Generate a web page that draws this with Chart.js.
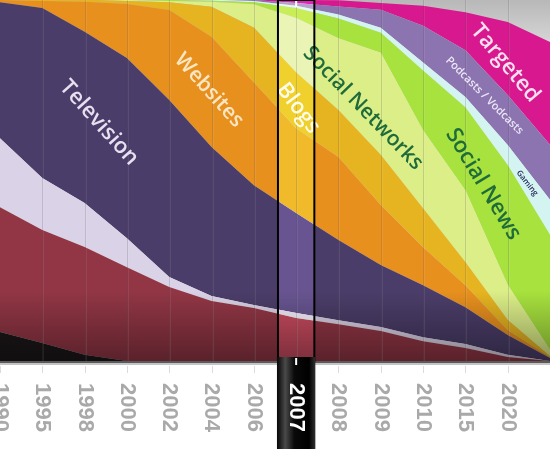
<!DOCTYPE html>
<html>
<head>
<meta charset="utf-8">
<script src="https://cdn.jsdelivr.net/npm/chart.js@4"></script>
<style>
  html, body { margin: 0; padding: 0; background: #fff; }
  #chart { display: block; }
</style>
</head>
<body>
<canvas id="chart" width="550" height="449"></canvas>
<script>
// years on the axis, last point is an unlabeled end point
const years = ['1990', '1995', '1998', '2000', '2002', '2004', '2006', '2007', '2008', '2009', '2010', '2015', '2020', ''];
const highlightYear = '2007';

// share of media (%), bottom of the stack first
const print      = [8.0, 5.0, 1.7, 0, 0, 0, 0, 0, 0, 0, 0, 0, 0, 0];
const radio      = [34.6, 31.3, 29.9, 26.0, 20.5, 16.6, 14.7, 11.9, 10.2, 8.3, 5.5, 3.6, 1.1, 0];
const outdoor    = [19.1, 14.4, 12.2, 8.0, 2.8, 1.4, 0.8, 1.4, 1.1, 1.1, 1.1, 1.1, 0.6, 0];
const television = [37.7, 47.1, 47.4, 49.9, 49.0, 41.3, 33.2, 27.7, 22.2, 17.2, 14.4, 10.2, 5.5, 0.8];
const websites   = [0.6, 1.9, 8.3, 15.0, 24.9, 30.5, 28.5, 23.5, 23.0, 16.6, 10.5, 6.1, 1.4, 0.3];
const blogs      = [0, 0.3, 0.6, 0.8, 2.2, 8.3, 15.2, 15.5, 13.0, 13.9, 10.8, 6.4, 2.8, 0.3];
const socialNetw = [0, 0, 0, 0.3, 0.3, 1.4, 6.4, 15.0, 19.9, 28.3, 21.6, 19.9, 9.7, 1.7];
const socialNews = [0, 0, 0, 0, 0.3, 0.3, 0.6, 2.8, 5.5, 5.5, 16.6, 23.0, 33.2, 31.9];
const gaming     = [0, 0, 0, 0, 0, 0.3, 0.3, 0.6, 1.1, 1.4, 2.2, 2.8, 5.5, 9.7];
const podcasts   = [0, 0, 0, 0, 0, 0, 0.3, 0.8, 2.2, 5.0, 10.2, 13.0, 13.9, 15.2];
const targeted   = [0, 0, 0, 0, 0, 0, 0, 0.8, 1.7, 1.9, 5.5, 10.5, 20.2, 28.5];

const series = [
  { label: 'Print', data: print, color: '#1c1719' },
  { label: 'Radio', data: radio, color: '#923645' },
  { label: 'Outdoor', data: outdoor, color: '#dad2e6' },
  { label: 'Television', data: television, color: '#4b3d69' },
  { label: 'Websites', data: websites, color: '#e8901e' },
  { label: 'Blogs', data: blogs, color: '#e6b420' },
  { label: 'Social Networks', data: socialNetw, color: '#dcee88' },
  { label: 'Social News', data: socialNews, color: '#a8e23e' },
  { label: 'Gaming', data: gaming, color: '#d4f4f2' },
  { label: 'Podcasts / Vodcasts', data: podcasts, color: '#8c74b0' },
  { label: 'Targeted', data: targeted, color: '#d8188e' }
];

// text written along the bands: position in axis units (category index, %)
const bandLabels = [
  { text: 'Television', at: 2.34, value: 66, angle: 48, size: 22, color: '#e6e0f0' },
  { text: 'Websites', at: 4.94, value: 75, angle: 48, size: 21, color: '#fbe6c4' },
  { text: 'Blogs', at: 7.05, value: 70, angle: 53, size: 22, color: '#fffbe8' },
  { text: 'Social Networks', at: 8.58, value: 70, angle: 46, size: 21, color: '#1f6b3a' },
  { text: 'Social News', at: 11.42, value: 49, angle: 59, size: 22, color: '#1f6b3a' },
  { text: 'Targeted', at: 11.94, value: 82.5, angle: 50, size: 22, color: '#fde0f0' },
  { text: 'Podcasts / Vodcasts', at: 11.45, value: 73.5, angle: 45, size: 11, color: '#ece6f6' },
  { text: 'Gaming', at: 12.46, value: 49.3, angle: 52, size: 8, color: '#2c2c5c' }
];

const datasets = series.map((s, i) => ({
  label: s.label,
  data: s.data,
  backgroundColor: s.color,
  borderWidth: 0,
  pointRadius: 0,
  fill: i === 0 ? 'origin' : '-1'
}));

const backdrop = {
  id: 'backdrop',
  beforeDatasetsDraw(chart) {
    const { ctx, chartArea: a } = chart;
    const g = ctx.createLinearGradient(0, a.top, 0, a.top + 60);
    g.addColorStop(0, '#b8b8b8');
    g.addColorStop(1, '#e2e2e2');
    ctx.save();
    ctx.fillStyle = g;
    ctx.fillRect(a.left, a.top, a.right - a.left, a.bottom - a.top);
    ctx.restore();
  }
};

const decor = {
  id: 'decor',
  afterDatasetsDraw(chart) {
    const { ctx, chartArea: a } = chart;
    const x = chart.scales.x;
    const hi = years.indexOf(highlightYear);
    const half = (x.getPixelForValue(1) - x.getPixelForValue(0)) * 0.43;
    const hx = x.getPixelForValue(hi);
    ctx.save();

    // darker towards the baseline
    const dark = ctx.createLinearGradient(0, a.bottom - 70, 0, a.bottom);
    dark.addColorStop(0, 'rgba(0,0,0,0)');
    dark.addColorStop(1, 'rgba(0,0,0,0.38)');
    ctx.fillStyle = dark;
    ctx.fillRect(a.left, a.bottom - 70, a.right - a.left, 70);

    // highlighted year column
    ctx.globalCompositeOperation = 'overlay';
    ctx.fillStyle = 'rgba(255,255,255,0.38)';
    ctx.fillRect(hx - half, a.top, half * 2, a.bottom - a.top);
    ctx.globalCompositeOperation = 'source-over';

    // vertical grid lines
    ctx.lineWidth = 1;
    years.forEach((y, i) => {
      if (i === 0 || i === years.length - 1) return;
      const px = Math.round(x.getPixelForValue(i)) + 0.5;
      ctx.strokeStyle = 'rgba(80,80,80,0.2)';
      ctx.beginPath();
      ctx.moveTo(px, a.top);
      ctx.lineTo(px, a.bottom);
      ctx.stroke();
      ctx.strokeStyle = 'rgba(255,255,255,0.08)';
      ctx.beginPath();
      ctx.moveTo(px + 1, a.top);
      ctx.lineTo(px + 1, a.bottom);
      ctx.stroke();
    });

    // band labels
    bandLabels.forEach(l => {
      const px = x.getPixelForValue(l.at);
      const py = chart.scales.y.getPixelForValue(l.value);
      ctx.save();
      ctx.translate(px, py);
      ctx.rotate(l.angle * Math.PI / 180);
      ctx.font = `600 ${l.size}px "Open Sans", "DejaVu Sans", sans-serif`;
      ctx.fillStyle = l.color;
      ctx.textAlign = 'center';
      ctx.textBaseline = 'middle';
      ctx.fillText(l.text, 0, 0);
      ctx.restore();
    });

    // axis line and tick marks
    ctx.fillStyle = '#5a5a5a';
    ctx.fillRect(a.left, a.bottom, a.right - a.left, 2);
    ctx.fillStyle = '#c4c4c4';
    ctx.fillRect(a.left, a.bottom + 2, a.right - a.left, 2);
    ctx.strokeStyle = '#dcdcdc';
    years.forEach((y, i) => {
      const px = Math.round(x.getPixelForValue(i)) + 0.5;
      ctx.beginPath();
      ctx.moveTo(px, a.bottom + 5);
      ctx.lineTo(px, a.bottom + 12);
      ctx.stroke();
    });

    // year labels, rotated clockwise
    ctx.font = 'bold 22px "Liberation Sans", Arial, sans-serif';
    ctx.textAlign = 'left';
    ctx.textBaseline = 'middle';
    years.forEach((y, i) => {
      if (!y || i === hi) return;
      ctx.save();
      ctx.translate(x.getPixelForValue(i), a.bottom + 22);
      ctx.rotate(Math.PI / 2);
      ctx.fillStyle = '#a9a9a9';
      ctx.fillText(y, 0, 0);
      ctx.restore();
    });

    // highlighted year frame and tab
    ctx.strokeStyle = '#000';
    ctx.lineWidth = 2;
    ctx.strokeRect(hx - half, a.top, half * 2, a.bottom - a.top);
    const tab = ctx.createLinearGradient(hx - half, 0, hx + half, 0);
    tab.addColorStop(0, '#0c0c0c');
    tab.addColorStop(0.2, '#4a4a4a');
    tab.addColorStop(0.45, '#0a0a0a');
    tab.addColorStop(0.85, '#000');
    tab.addColorStop(1, '#2a2a2a');
    ctx.fillStyle = tab;
    ctx.fillRect(hx - half - 1, a.bottom - 4, half * 2 + 2, chart.height - a.bottom + 4);
    ctx.fillStyle = '#fff';
    ctx.fillRect(hx - 1, a.top + 1, 2, 6);
    ctx.fillRect(hx - 1, a.bottom - 3, 2, 7);
    ctx.save();
    ctx.translate(hx, a.bottom + 22);
    ctx.rotate(Math.PI / 2);
    ctx.fillStyle = '#fff';
    ctx.fillText(highlightYear, 0, 0);
    ctx.restore();

    ctx.restore();
  }
};

new Chart(document.getElementById('chart').getContext('2d'), {
  type: 'line',
  data: { labels: years, datasets: datasets },
  options: {
    responsive: false,
    animation: false,
    layout: { padding: { left: 0, right: 0, top: 0, bottom: 88 } },
    elements: { line: { tension: 0 } },
    plugins: {
      legend: { display: false },
      tooltip: { enabled: false }
    },
    scales: {
      x: { display: false, offset: false },
      y: { display: false, stacked: true, min: 0, max: 100 }
    }
  },
  plugins: [backdrop, decor]
});
</script>
</body>
</html>
